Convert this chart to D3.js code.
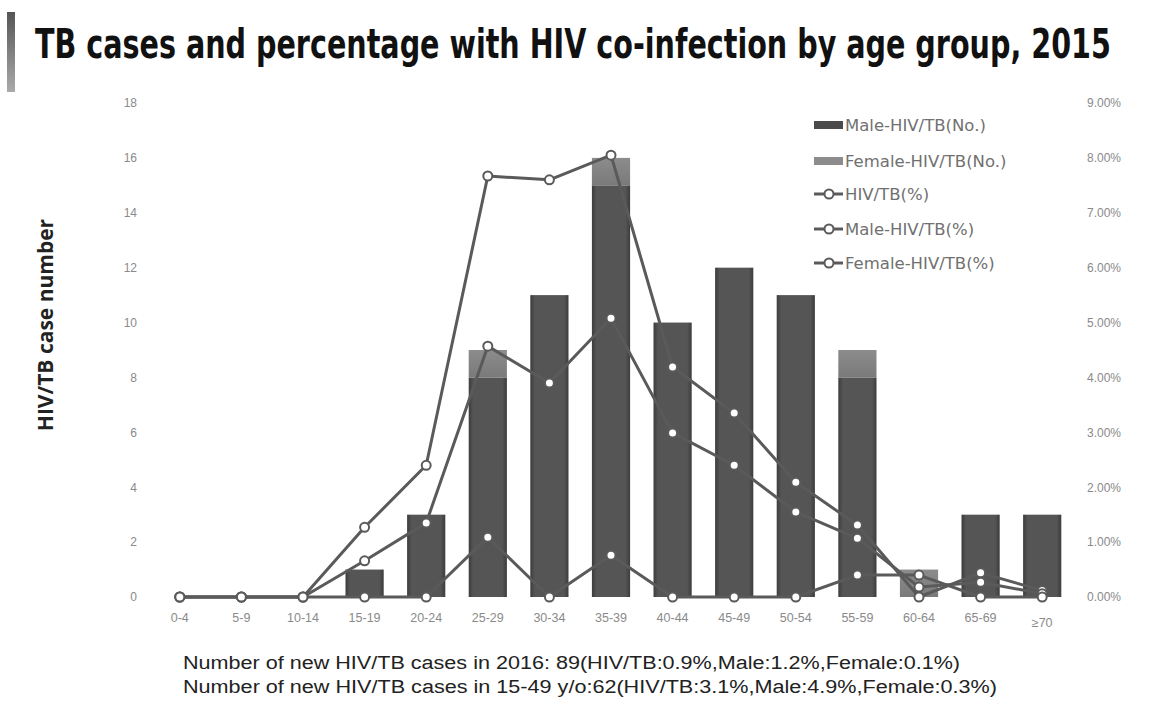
<!DOCTYPE html>
<html>
<head>
<meta charset="utf-8">
<script src="https://cdn.jsdelivr.net/npm/d3@7"></script>
<style>
  body { margin: 0; background: #fff; }
  svg { display: block; }
</style>
</head>
<body>
<div id="chart"></div>
<script>
// age groups and values
const ageGroups = ["0-4", "5-9", "10-14", "15-19", "20-24", "25-29", "30-34", "35-39",
  "40-44", "45-49", "50-54", "55-59", "60-64", "65-69", "\u226570"];
const maleCases = [0, 0, 0, 1, 3, 8, 11, 15, 10, 12, 11, 8, 0, 3, 3];
const femaleCases = [0, 0, 0, 0, 0, 1, 0, 1, 0, 0, 0, 1, 1, 0, 0];
const totalPct = [0, 0, 0, 0.66, 1.35, 4.57, 3.90, 5.08, 2.99, 2.40, 1.55, 1.07, 0.18, 0.27, 0.06];
const malePct = [0, 0, 0, 1.27, 2.40, 7.67, 7.60, 8.05, 4.19, 3.35, 2.09, 1.31, 0, 0.44, 0.12];
const femalePct = [0, 0, 0, 0, 0, 1.09, 0, 0.76, 0, 0, 0, 0.40, 0.40, 0, 0];
const leftTicks = [0, 2, 4, 6, 8, 10, 12, 14, 16, 18];
const rightTicks = [0, 1, 2, 3, 4, 5, 6, 7, 8, 9];
const legendLabels = ["Male-HIV/TB(No.)", "Female-HIV/TB(No.)", "HIV/TB(%)", "Male-HIV/TB(%)", "Female-HIV/TB(%)"];
const notes = [
  "Number of new HIV/TB cases in 2016: 89(HIV/TB:0.9%,Male:1.2%,Female:0.1%)",
  "Number of new HIV/TB cases in 15-49 y/o:62(HIV/TB:3.1%,Male:4.9%,Female:0.3%)"
];

const W = 1150, H = 704;
const svg = d3.select("#chart").append("svg").attr("width", W).attr("height", H);

const defs = svg.append("defs");
const gMale = defs.append("linearGradient").attr("id", "gm");
gMale.append("stop").attr("offset", "0%").attr("stop-color", "#3c3c3c");
gMale.append("stop").attr("offset", "12%").attr("stop-color", "#555");
gMale.append("stop").attr("offset", "88%").attr("stop-color", "#555");
gMale.append("stop").attr("offset", "100%").attr("stop-color", "#3c3c3c");
const gFem = defs.append("linearGradient").attr("id", "gf").attr("x1", 0).attr("x2", 0).attr("y1", 0).attr("y2", 1);
gFem.append("stop").attr("offset", "0%").attr("stop-color", "#8c8c8c");
gFem.append("stop").attr("offset", "100%").attr("stop-color", "#7a7a7a");
const gSide = defs.append("linearGradient").attr("id", "gs").attr("x1", 0).attr("x2", 0).attr("y1", 0).attr("y2", 1);
gSide.append("stop").attr("offset", "0%").attr("stop-color", "#555");
gSide.append("stop").attr("offset", "100%").attr("stop-color", "#aaa");

// side mark + title (squeezed horizontally to fit like the condensed original)
svg.append("rect").attr("x", 7).attr("y", 12).attr("width", 8).attr("height", 80).attr("fill", "url(#gs)");
const titleG = svg.append("g");
const title = titleG.append("text")
  .style("font-family", "'Liberation Sans Narrow', 'DejaVu Sans Condensed', sans-serif")
  .style("font-weight", "bold").style("font-size", "40px").attr("fill", "#111")
  .text("TB cases and percentage with HIV  co-infection by age group, 2015");
const tw = title.node().getComputedTextLength();
titleG.attr("transform", `translate(35,58) scale(${Math.min(1, 1076 / tw)},1)`);

// scales
const x = d3.scaleBand().domain(ageGroups).range([149, 1073]).paddingInner(0.38).paddingOuter(0.19);
const y = d3.scaleLinear().domain([0, 18]).range([597, 103]);
const y2 = d3.scaleLinear().domain([0, 9]).range([597, 103]);

const tickFont = "'Liberation Sans', Arial, sans-serif";

// left axis
const axL = svg.append("g").attr("transform", "translate(137,0)")
  .call(d3.axisLeft(y).tickValues(leftTicks).tickSize(0).tickPadding(0));
axL.select(".domain").remove();
axL.selectAll("text").attr("fill", "#8a8a8a").style("font-size", "12px").style("font-family", tickFont);

// right axis
const axR = svg.append("g").attr("transform", "translate(1087,0)")
  .call(d3.axisRight(y2).tickValues(rightTicks).tickSize(0).tickPadding(0).tickFormat(d => d.toFixed(2) + "%"));
axR.select(".domain").remove();
axR.selectAll("text").attr("fill", "#8a8a8a").style("font-size", "12px").style("font-family", tickFont);

// y title
svg.append("text")
  .attr("transform", "translate(53,325) rotate(-90)")
  .attr("text-anchor", "middle")
  .style("font-family", "'Open Sans', 'DejaVu Sans', sans-serif")
  .style("font-weight", "bold").style("font-size", "21px").attr("fill", "#222")
  .text("HIV/TB case number");

// bars
const bars = svg.append("g");
bars.selectAll(".male").data(ageGroups).join("rect")
  .attr("x", d => x(d)).attr("width", x.bandwidth())
  .attr("y", (d, i) => y(maleCases[i])).attr("height", (d, i) => y(0) - y(maleCases[i]))
  .attr("fill", "url(#gm)");
bars.selectAll(".female").data(ageGroups).join("rect")
  .attr("x", d => x(d)).attr("width", x.bandwidth())
  .attr("y", (d, i) => y(maleCases[i] + femaleCases[i])).attr("height", (d, i) => y(0) - y(femaleCases[i]))
  .attr("fill", "url(#gf)");

// x labels
svg.append("g").selectAll("text").data(ageGroups).join("text")
  .attr("x", d => x(d) + x.bandwidth() / 2)
  .attr("y", d => d === "\u226570" ? 627 : 622)
  .attr("text-anchor", "middle")
  .style("font-family", tickFont).style("font-size", "12.5px").attr("fill", "#8a8a8a")
  .text(d => d);

// lines
const cx = (d, i) => x(ageGroups[i]) + x.bandwidth() / 2;
const lineGen = d3.line().x(cx).y(d => y2(d));
const seriesPct = [malePct, totalPct, femalePct];
const lines = svg.append("g");
seriesPct.forEach(s => {
  lines.append("path").attr("d", lineGen(s)).attr("fill", "none")
    .attr("stroke", "#5a5a5a").attr("stroke-width", 3).attr("stroke-linejoin", "round");
});
seriesPct.forEach(s => {
  lines.append("g").selectAll("circle").data(s).join("circle")
    .attr("cx", cx).attr("cy", d => y2(d)).attr("r", 4.5)
    .attr("fill", "#fff").attr("stroke", "#5a5a5a").attr("stroke-width", 2);
});

// legend
const legY = [125, 161, 194, 229, 263];
const leg = svg.append("g");
legendLabels.forEach((lab, i) => {
  const g = leg.append("g").attr("transform", `translate(814,${legY[i]})`);
  if (i < 2) {
    g.append("rect").attr("x", 0).attr("y", -4).attr("width", 29).attr("height", 8)
      .attr("fill", i === 0 ? "#4a4a4a" : "#8c8c8c");
  } else {
    g.append("line").attr("x1", 0).attr("x2", 29).attr("y1", 0).attr("y2", 0)
      .attr("stroke", "#5a5a5a").attr("stroke-width", 3);
    g.append("circle").attr("cx", 15).attr("cy", 0).attr("r", 4.5)
      .attr("fill", "#fff").attr("stroke", "#5a5a5a").attr("stroke-width", 2);
  }
  g.append("text").attr("x", 31).attr("y", 6)
    .style("font-family", "'DejaVu Sans', sans-serif").style("font-size", "16.5px").attr("fill", "#707070")
    .text(lab);
});

// notes under chart
svg.append("g").selectAll("text").data(notes).join("text")
  .attr("x", 183).attr("y", (d, i) => 669 + i * 24)
  .attr("textLength", (d, i) => i === 0 ? 777 : 814).attr("lengthAdjust", "spacingAndGlyphs")
  .style("font-family", "'Liberation Sans Narrow', 'Liberation Sans', sans-serif")
  .style("font-size", "18px").attr("fill", "#222")
  .text(d => d);
</script>
</body>
</html>
